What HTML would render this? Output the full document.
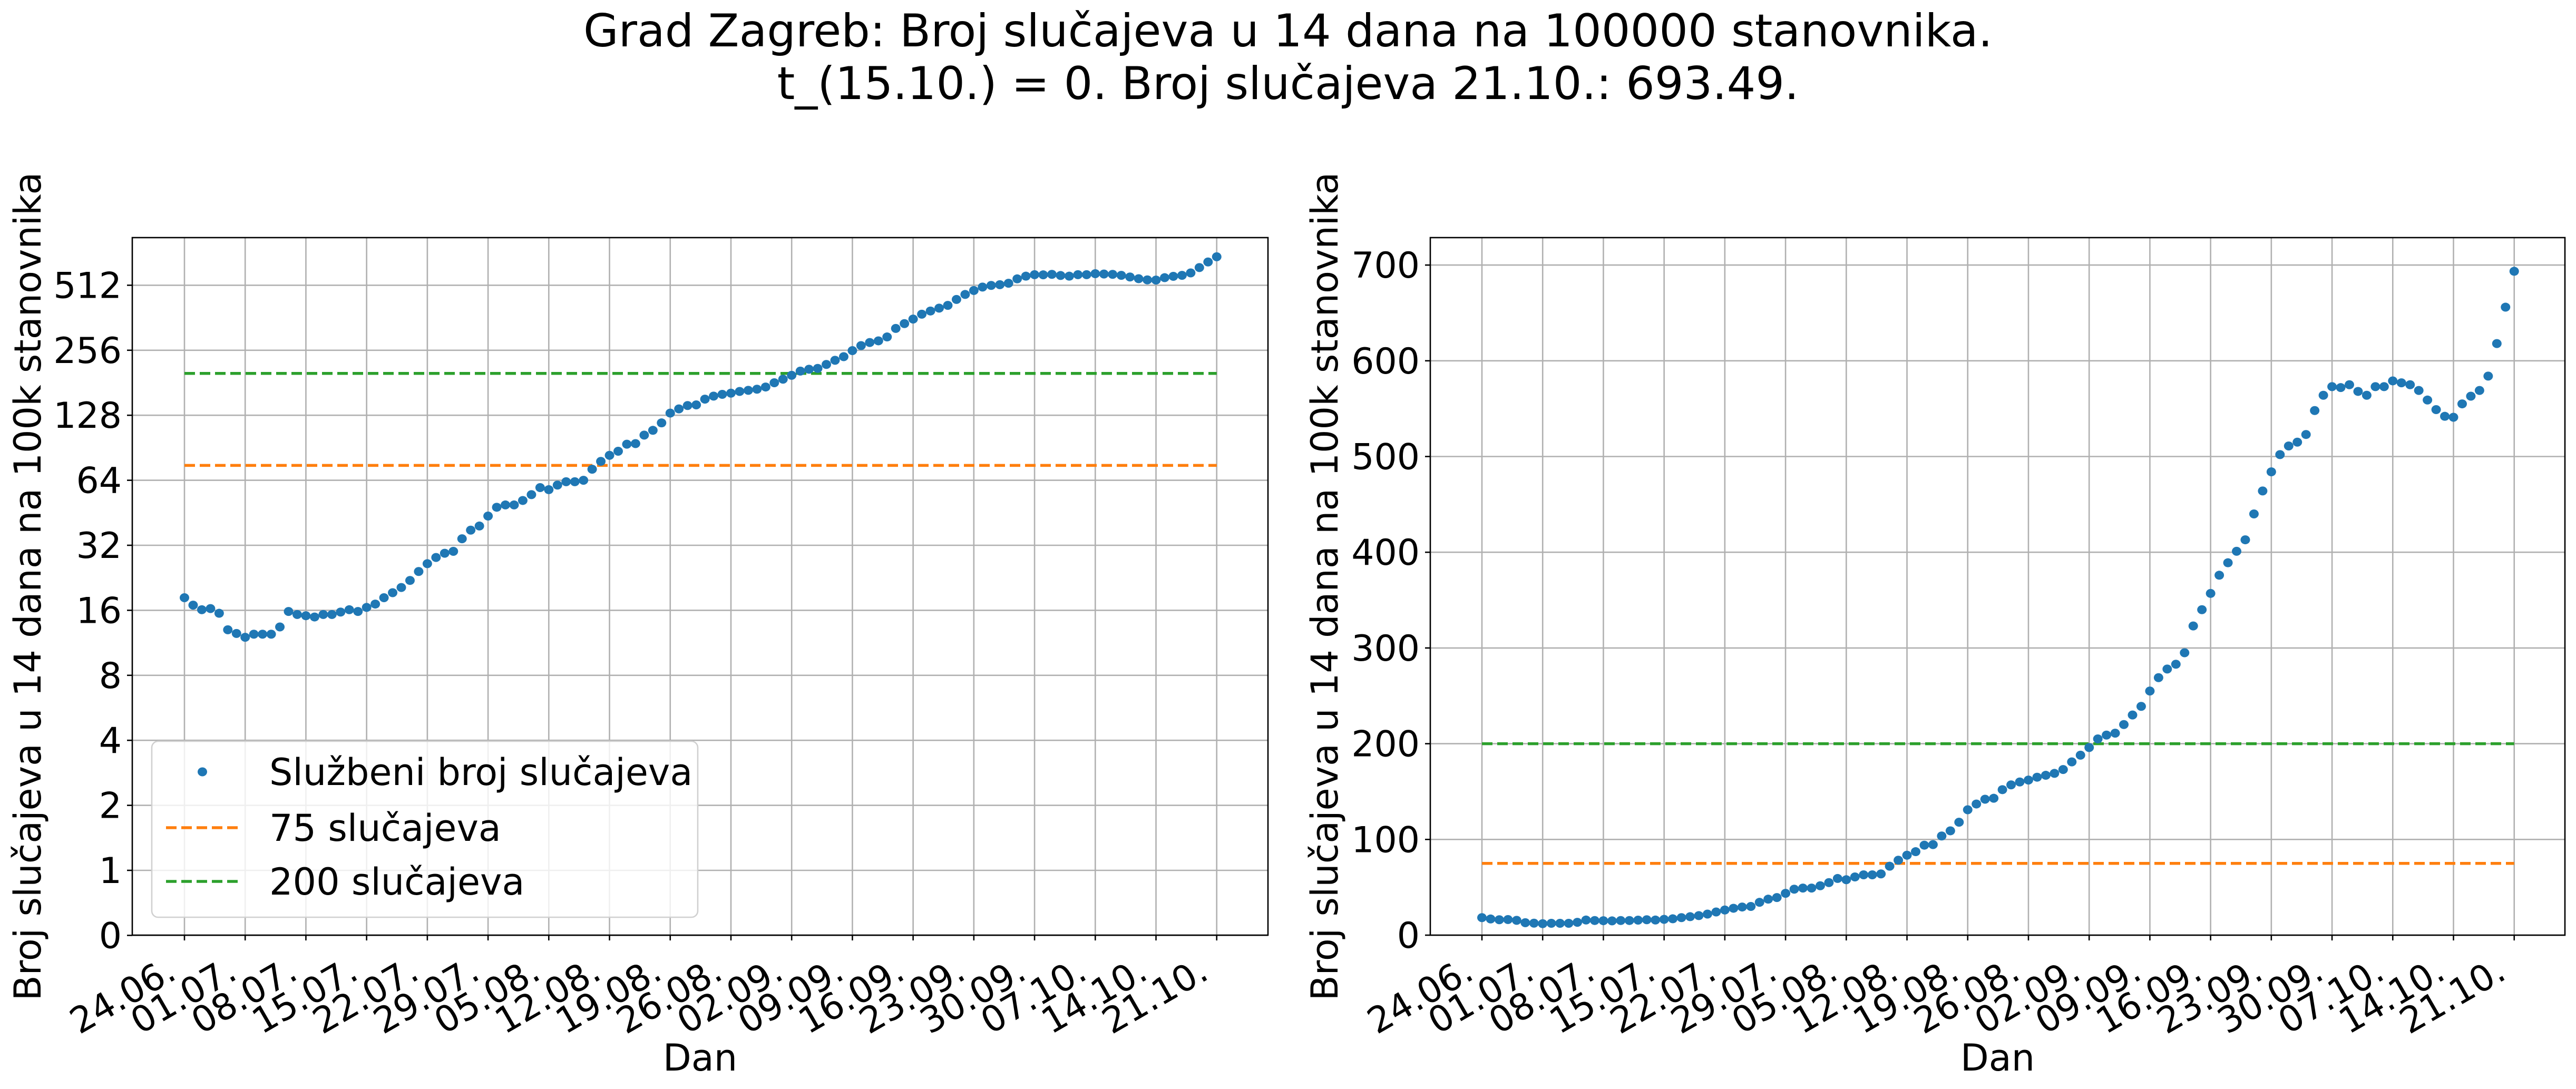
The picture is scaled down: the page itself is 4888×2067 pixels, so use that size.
<!DOCTYPE html>
<html><head><meta charset="utf-8">
<style>
html,body{margin:0;padding:0;background:#fff;}
svg text{font-family:"DejaVu Sans","Liberation Sans",sans-serif;fill:#000;}
</style></head>
<body>
<svg id="fig" xmlns="http://www.w3.org/2000/svg" width="4888" height="2062" viewBox="0 0 4888 2062">
<rect width="4888" height="2062" fill="#fff"/>
<text x="2444" y="88" font-size="86" text-anchor="middle">Grad Zagreb: Broj slučajeva u 14 dana na 100000 stanovnika.</text>
<text x="2444" y="188" font-size="86" text-anchor="middle">t_(15.10.) = 0. Broj slučajeva 21.10.: 693.49.</text>
<g id="left"></g>
<g id="right"></g>
</svg>
<script>
const dateLabels = ["24.06.","01.07.","08.07.","15.07.","22.07.","29.07.","05.08.","12.08.","19.08.","26.08.","02.09.","09.09.","16.09.","23.09.","30.09.","07.10.","14.10.","21.10."];
const cases = [18.3,16.9,16.1,16.3,15.5,13.0,12.5,12.0,12.4,12.4,12.4,13.4,15.8,15.3,15.1,14.9,15.3,15.3,15.7,16.1,
15.8,16.5,17.1,18.3,19.3,20.4,22.0,24.2,26.3,28.1,29.4,30.0,34.3,37.6,39.3,43.7,48.0,49.2,49.2,51.6,
54.9,59.2,57.9,60.8,63.0,63.0,64.0,72.0,78.3,83.5,87.2,94.0,94.6,103.6,109,118,131,137,142,143,
152,157,160,162,165,167,169,173,181,188,196,205,209,211,220,230,239,255,269,278,
283,295,323,340,357,376,389,401,413,440,464,484,502,511,515,523,548,564,573,572,
575,568,564,573,573,579,577,575,569,559,549,542,541,555,563,569,584,618,656,693.49];
const threshold75 = [75];
const threshold200 = [200];
const logTickValues = [0.5,1,2,4,8,16,32,64,128,256,512];
const logTickLabels = ["0","1","2","4","8","16","32","64","128","256","512"];
const linTickValues = [0,100,200,300,400,500,600,700];
const linTickLabels = ["0","100","200","300","400","500","600","700"];

const NS = "http://www.w3.org/2000/svg";
function mk(parent, tag, attrs, txt){
  const e = document.createElementNS(NS, tag);
  for (const k in attrs) e.setAttribute(k, attrs[k]);
  if (txt !== undefined) e.textContent = txt;
  parent.appendChild(e); return e;
}
const TOP = 451, BOT = 1775;

function drawPanel(g, cfg){
  const {L, R, x0, yF, yTicks, yLabels, ylabX, prefix} = cfg;
  const xF = d => x0 + d * 16.46;
  // grid
  yTicks.forEach((v,i)=>{
    const y = yF(v);
    const ln = mk(g,'line',{x1:L,x2:R,y1:y,y2:y,stroke:'#b0b0b0','stroke-width':2.6});
    
    
    const tk = mk(g,'line',{x1:L-10,x2:L,y1:y,y2:y,stroke:'#000','stroke-width':2.6});
    
    
    const t = mk(g,'text',{x:L-20,y:y+24,'font-size':68,'text-anchor':'end'}, yLabels[i]);
    
    
  });
  dateLabels.forEach((lab,i)=>{
    const x = xF(i*7);
    const ln = mk(g,'line',{x1:x,x2:x,y1:TOP,y2:BOT,stroke:'#b0b0b0','stroke-width':2.6});
    
    
    const tk = mk(g,'line',{x1:x,x2:x,y1:BOT,y2:BOT+10,stroke:'#000','stroke-width':2.6});
    
    
    const px = x-12, py = 1856;
    const t = mk(g,'text',{x:px,y:py,'font-size':68,'text-anchor':'end',transform:`rotate(-30 ${px} ${py})`}, lab);
    
    
  });
  // threshold lines
  const xs = xF(0), xe = xF(cases.length-1);
  const h1 = mk(g,'line',{x1:xs,x2:xe,y1:yF(threshold75[0]),y2:yF(threshold75[0]),stroke:'#ff7f0e','stroke-width':5.5,'stroke-dasharray':'20 9'});
  
  
  const h2 = mk(g,'line',{x1:xs,x2:xe,y1:yF(threshold200[0]),y2:yF(threshold200[0]),stroke:'#2ca02c','stroke-width':5.5,'stroke-dasharray':'20 9'});
  
  
  // points
  cases.forEach((v,i)=>{
    const c = mk(g,'ellipse',{cx:xF(i),cy:yF(v),rx:9,ry:8.5,fill:'#1f77b4'});
    
    
  });
  // spines
  const sp = mk(g,'rect',{x:L,y:TOP,width:R-L,height:BOT-TOP,fill:'none',stroke:'#000','stroke-width':2.6});
  
  
  const xl = mk(g,'text',{x:(L+R)/2,y:2032,'font-size':70,'text-anchor':'middle'},'Dan');
  
  
  const yl = mk(g,'text',{x:ylabX,y:1113,'font-size':70,'text-anchor':'middle',transform:`rotate(-90 ${ylabX} 1113)`},'Broj slučajeva u 14 dana na 100k stanovnika');
  
  
}

const gl = document.getElementById('left');
drawPanel(gl, {L:251, R:2406, x0:350, yF: v => 1652 - Math.log2(v)*123.4, yTicks:logTickValues, yLabels:logTickLabels, ylabX:77, prefix:'log-'});
const gr = document.getElementById('right');
drawPanel(gr, {L:2714, R:4867, x0:2812, yF: v => 1775 - v*1.817, yTicks:linTickValues, yLabels:linTickLabels, ylabX:2538, prefix:'linear-'});

// legend
const lg = mk(gl,'g',{});


const box = mk(lg,'rect',{x:288,y:1407,width:1036,height:334,rx:12,fill:'#fff','fill-opacity':0.8,stroke:'#d0d0d0','stroke-width':2.6});


const e1 = mk(lg,'ellipse',{cx:384,cy:1465,rx:9,ry:8.5,fill:'#1f77b4'});


const t1 = mk(lg,'text',{x:511,y:1490,'font-size':70},'Službeni broj slučajeva');


const l2 = mk(lg,'line',{x1:315,x2:454,y1:1571,y2:1571,stroke:'#ff7f0e','stroke-width':5.5,'stroke-dasharray':'20 9'});


const t2 = mk(lg,'text',{x:511,y:1596,'font-size':70},'75 slučajeva');


const l3 = mk(lg,'line',{x1:315,x2:454,y1:1673,y2:1673,stroke:'#2ca02c','stroke-width':5.5,'stroke-dasharray':'20 9'});


const t3 = mk(lg,'text',{x:511,y:1698,'font-size':70},'200 slučajeva');


</script>
</body></html>
